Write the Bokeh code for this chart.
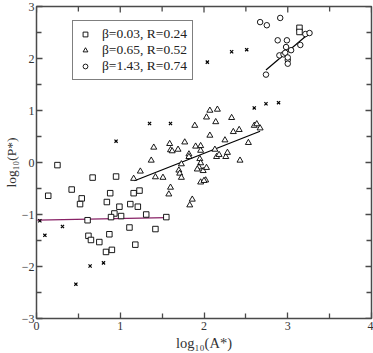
import math
from bokeh.plotting import figure
from bokeh.models import Range1d, Legend, LegendItem, FixedTicker
from bokeh.embed import file_html
from bokeh.resources import INLINE

# --- data ---
sq_x = [0.25, 0.67, 0.95, 0.14, 0.42, 0.54, 0.52, 0.88, 0.84, 1.16, 1.23, 0.99, 1.12, 1.21, 0.93,
        0.89, 1.01, 1.31, 1.55, 0.61, 1.11, 1.42, 0.62, 0.65, 0.87, 0.75, 1.18, 0.83, 0.90, 3.14, 3.14]
sq_y = [-0.05, -0.29, -0.27, -0.64, -0.52, -0.69, -0.80, -0.59, -0.76, -0.59, -0.54, -0.85, -0.80, -0.85, -0.98,
        -1.05, -1.03, -1.00, -1.05, -1.11, -1.25, -1.28, -1.41, -1.49, -1.38, -1.53, -1.58, -1.72, -1.68, 2.59, 2.51]

tri_x = [1.89, 2.03, 2.07, 2.07, 1.40, 1.59, 1.60, 1.62, 1.69, 1.77, 1.90, 1.96, 1.96, 1.82, 1.82, 1.37,
         1.73, 1.95, 1.96, 1.94, 1.24, 1.70, 1.71, 1.92, 1.99, 2.03, 1.16, 1.42, 1.51, 1.73, 1.96, 2.02,
         2.00, 1.60, 1.58, 1.83, 1.86, 2.16, 2.14, 2.33, 2.60, 2.63, 2.67, 2.42, 2.35, 2.25, 2.53, 2.13,
         2.15, 2.18, 2.26, 2.28, 2.43]
tri_y = [0.71, 0.87, 1.00, 0.52, 0.29, 0.36, 0.24, 0.22, 0.25, 0.39, 0.31, 0.32, 0.23, 0.16, 0.11, 0.04,
         -0.03, 0.07, -0.01, -0.09, -0.17, -0.15, -0.21, -0.13, -0.16, -0.10, -0.31, -0.28, -0.29, -0.29, -0.38, -0.34,
         -0.35, -0.48, -0.61, -0.82, -0.71, 1.02, 0.78, 0.86, 0.71, 0.74, 0.66, 0.63, 0.59, 0.43, 0.38, 0.25,
         0.11, 0.15, 0.11, 0.19, 0.04]

cir_x = [2.91, 2.67, 2.75, 2.88, 2.99, 2.98, 2.90, 2.95, 2.97, 3.04, 3.15, 3.00, 3.00, 2.74, 3.21, 3.26, 3.00]
cir_y = [2.78, 2.70, 2.64, 2.35, 2.35, 2.22, 2.06, 2.08, 2.11, 2.16, 2.26, 1.97, 1.90, 1.69, 2.47, 2.49, 2.02]

x_x = [0.04, 0.10, 0.31, 0.64, 0.80, 0.47, 0.95, 1.35, 1.60, 2.04, 2.33, 2.51, 2.60, 2.74, 2.89]
x_y = [-1.12, -1.40, -1.23, -1.99, -1.93, -2.34, 0.41, 0.75, 0.75, 1.93, 2.13, 2.17, 1.05, 1.13, 1.15]

fit1_x = [0.01, 1.55]
fit1_y = [-1.11, -1.06]
fit2_x = [1.17, 2.67]
fit2_y = [-0.35, 0.60]
fit3_x = [2.74, 3.26]
fit3_y = [1.78, 2.49]

legend_labels = ["β=0.03, R=0.24", "β=0.65, R=0.52", "β=1.43, R=0.74"]
x_title = "log₁₀(A*)"
y_title = "log₁₀(P*)"
ticks_x = [0, 1, 2, 3, 4]
ticks_y = [-3, -2, -1, 0, 1, 2, 3]
minor_x = [0.5, 1.5, 2.5, 3.5]
minor_y = [-2.5, -1.5, -0.5, 0.5, 1.5, 2.5]

SERIF = "Liberation Serif"
AX = "#4a4a4a"
TC = "#333333"
X0, X1, Y0, Y1 = 0, 4, -3, 3

p = figure(width=373, height=353, output_backend="svg", toolbar_location=None,
           x_range=Range1d(X0, X1), y_range=Range1d(Y0, Y1),
           min_border_left=33, min_border_right=2, min_border_top=6, min_border_bottom=34)
p.background_fill_color = "white"
p.border_fill_color = "white"
p.outline_line_color = AX
p.outline_line_width = 1.5
p.xgrid.visible = False
p.ygrid.visible = False

for ax in (p.xaxis[0], p.yaxis[0]):
    ax.axis_line_color = None
    ax.major_tick_line_color = AX
    ax.minor_tick_line_color = AX
    ax.major_tick_line_width = 1.3
    ax.minor_tick_line_width = 1.3
    ax.major_tick_in = 6
    ax.major_tick_out = 0
    ax.minor_tick_in = 5
    ax.minor_tick_out = 0
    ax.major_label_text_font = SERIF
    ax.major_label_text_font_size = "12px"
    ax.major_label_text_color = TC
    ax.major_label_standoff = 2
    ax.axis_label_text_font = SERIF
    ax.axis_label_text_font_style = "normal"
    ax.axis_label_text_font_size = "13.5px"
    ax.axis_label_text_color = TC
    ax.axis_label_standoff = 0
p.xaxis.major_label_standoff = 3
p.xaxis.axis_label_standoff = 2
p.xaxis.axis_label_text_font_size = "14.5px"
p.xaxis.ticker = FixedTicker(ticks=ticks_x, minor_ticks=minor_x)
p.yaxis.ticker = FixedTicker(ticks=ticks_y, minor_ticks=minor_y)
p.xaxis.axis_label = x_title
p.yaxis.axis_label = y_title

# inward ticks on the top and right edges of the frame
p.ray(x=ticks_x, y=[Y1] * len(ticks_x), length=6, length_units="screen",
      angle=-math.pi / 2, line_color=AX, line_width=1.3)
p.ray(x=minor_x, y=[Y1] * len(minor_x), length=5, length_units="screen",
      angle=-math.pi / 2, line_color=AX, line_width=1.3)
p.ray(x=[X1] * len(ticks_y), y=ticks_y, length=6, length_units="screen",
      angle=math.pi, line_color=AX, line_width=1.3)
p.ray(x=[X1] * len(minor_y), y=minor_y, length=5, length_units="screen",
      angle=math.pi, line_color=AX, line_width=1.3)

# fit lines
p.line(fit1_x, fit1_y, line_color="#882266", line_width=1.2)
p.line(fit2_x, fit2_y, line_color="black", line_width=1.2)
p.line(fit3_x, fit3_y, line_color="black", line_width=1.2)

r_sq = p.scatter(sq_x, sq_y, marker="square", size=5.5, fill_color="white", line_color="black", line_width=0.9)
r_tri = p.scatter(tri_x, tri_y, marker="triangle", size=6, fill_color="white", line_color="black", line_width=0.9)
r_cir = p.scatter(cir_x, cir_y, marker="circle", size=5.5, fill_color="white", line_color="black", line_width=0.9)
p.scatter(x_x, x_y, marker="x", size=4.5, line_color="black", line_width=1.2)

legend = Legend(items=[LegendItem(label=legend_labels[0], renderers=[r_sq]),
                       LegendItem(label=legend_labels[1], renderers=[r_tri]),
                       LegendItem(label=legend_labels[2], renderers=[r_cir])],
                location=(36, 238))
legend.label_text_font = SERIF
legend.label_text_font_size = "13.5px"
legend.label_text_color = "#222222"
legend.label_height = 14
legend.glyph_height = 12
legend.glyph_width = 14
legend.label_standoff = 10
legend.padding = 5
legend.spacing = 0
legend.margin = 0
legend.border_line_color = "black"
legend.border_line_width = 1
legend.background_fill_alpha = 1
p.add_layout(legend, "center")

open("out.html", "w").write(file_html(p, INLINE))
